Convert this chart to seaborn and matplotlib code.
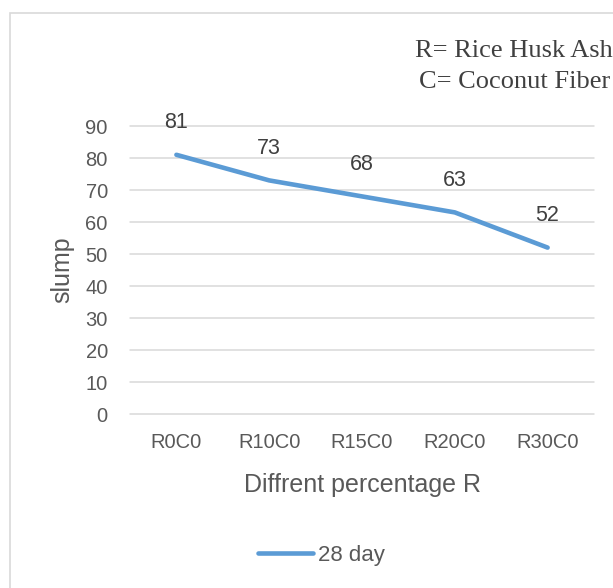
import seaborn as sns
import pandas as pd
import matplotlib.pyplot as plt
from matplotlib.patches import Rectangle

# values
mixes = ["R0C0", "R10C0", "R15C0", "R20C0", "R30C0"]
slump = [81, 73, 68, 63, 52]
series_name = "28 day"
y_ticks = [0, 10, 20, 30, 40, 50, 60, 70, 80, 90]

sns.set_theme(style="white")
plt.rcParams['font.family'] = ['Liberation Sans', 'DejaVu Sans']

grey_txt = "#595959"
blue = "#5B9BD5"

df = pd.DataFrame({"mix": mixes, "slump": slump})

W, H = 613, 588
fig = plt.figure(figsize=(W / 100, H / 100), dpi=100)
ax = fig.add_axes([130 / W, 1 - 414 / H, 464 / W, 288 / H])

# outer chart border (clipped at right and bottom like the source)
fig.patches.append(Rectangle((9.5 / W, -0.2), 1.5, 1.2 - 12.5 / H,
                             transform=fig.transFigure, fill=False,
                             edgecolor="#D9D9D9", lw=1.2))

sns.lineplot(data=df, x="mix", y="slump", ax=ax, color=blue, lw=3.3,
             label=series_name, solid_capstyle="round", sort=False)

for i, v in enumerate(slump):
    ax.annotate(str(v), (i, v), xytext=(0, 23), textcoords="offset points",
                ha="center", va="center", fontsize=15.5, color="#404040")

ax.set_xlim(-0.5, len(mixes) - 0.5)
ax.set_ylim(0, 90)
ax.set_yticks(y_ticks)
ax.grid(axis="y", color="#D9D9D9", lw=1.1)
ax.grid(axis="x", visible=False)
for gl in ax.get_ygridlines():
    gl.set_clip_on(False)
for s in ax.spines.values():
    s.set_visible(False)
ax.tick_params(axis="both", length=0, labelsize=14.5, labelcolor=grey_txt)
ax.tick_params(axis="y", pad=16)
ax.tick_params(axis="x", pad=14)

ax.set_xlabel("Diffrent percentage R", fontsize=18, color=grey_txt)
ax.xaxis.label.set_va("center")
ax.xaxis.set_label_coords(0.5, (414 - 485) / 288)
ax.set_ylabel("slump", fontsize=18, color=grey_txt)
ax.yaxis.label.set_va("center")
ax.yaxis.set_label_coords((62 - 130) / 464, 0.5)

ax.legend(loc="center", bbox_to_anchor=(321 / W, 1 - 555 / H),
          bbox_transform=fig.transFigure, frameon=False, fontsize=16,
          handlelength=2.5, handletextpad=0.2, borderpad=0,
          labelcolor=grey_txt)

fig.text(415 / W, 1 - 51 / H, "R= Rice Husk Ash", ha="left", va="center",
         family="Liberation Serif", fontsize=19, color="#404040")
fig.text(419 / W, 1 - 82 / H, "C= Coconut Fiber", ha="left", va="center",
         family="Liberation Serif", fontsize=19, color="#404040")

fig.savefig("out.png", dpi=100)
